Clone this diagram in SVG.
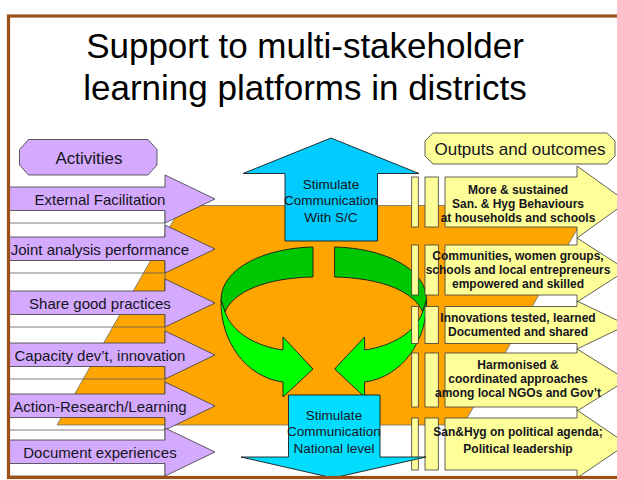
<svg xmlns="http://www.w3.org/2000/svg" width="617" height="480" viewBox="0 0 617 480">
<style>
text{font-family:"Liberation Sans",Arial,sans-serif;fill:#141420;text-anchor:middle}
.title{font-size:35px;fill:#000}
.act{font-size:15px}
.hdr{font-size:17px}
.cy{font-size:13.5px}
.out{font-size:12px;font-weight:bold}
.purp{fill:#D4AAFF;stroke:#3a3a3a;stroke-width:0.8}
.band{fill:none;stroke:#5a5a5a;stroke-width:0.8}
.yel{fill:#FFFF99;stroke:#3a3a3a;stroke-width:0.8}
.cyan{stroke:#1a1a1a;stroke-width:0.9}
.gdark{fill:#00C800;stroke:#1a1a1a;stroke-width:0.9}
.glight{fill:#00FF00;stroke:#1a1a1a;stroke-width:0.9}
</style>
<rect width="617" height="480" fill="#fff"/>
<g id="title">
<text class="title" x="305" y="58">Support to multi-stakeholder</text>
<text class="title" x="305" y="100">learning platforms in districts</text>
</g>
<polygon id="platform" points="182,205.5 591,205.5 463,425 57,425" fill="#FFA500" stroke="#6b6b6b" stroke-width="0.8"/>

<g id="activities-header">
<polygon class="purp" points="28.5,139.5 148,139.5 157,149.5 157,165 148,175 28.5,175 19.5,165 19.5,149.5"/>
<text class="hdr" x="89" y="164">Activities</text>
</g>

<g id="act1">
<path class="band" d="M165,210.5 V223 H9"/>
<polygon class="purp" points="9,187 165,187 165,175 215,199 165,223 165,210.5 9,210.5"/>
<text class="act" x="100" y="204.5">External Facilitation</text>
</g>
<g id="act2">
<path class="band" d="M165,260.5 V273 H9 M165,223 V237"/>
<polygon class="purp" points="9,237 165,237 165,225 215,249 165,273 165,260.5 9,260.5"/>
<text class="act" x="100" y="254.5">Joint analysis performance</text>
</g>
<g id="act3">
<path class="band" d="M165,314.5 V327 H9 M165,273 V291"/>
<polygon class="purp" points="9,291 165,291 165,279 215,303 165,327 165,314.5 9,314.5"/>
<text class="act" x="100" y="308.5">Share good practices</text>
</g>
<g id="act4">
<path class="band" d="M165,366.5 V379 H9 M165,327 V343"/>
<polygon class="purp" points="9,343 165,343 165,331 215,355 165,379 165,366.5 9,366.5"/>
<text class="act" x="100" y="360.5">Capacity dev’t, innovation</text>
</g>
<g id="act5">
<path class="band" d="M165,417.5 V430 H9 M165,379 V394"/>
<polygon class="purp" points="9,394 165,394 165,382 215,406 165,430 165,417.5 9,417.5"/>
<text class="act" x="100" y="411.5">Action-Research/Learning</text>
</g>
<g id="act6">
<path class="band" d="M165,463.5 V476 H9 M165,430 V440"/>
<polygon class="purp" points="9,440 165,440 165,428 215,452 165,476 165,463.5 9,463.5"/>
<text class="act" x="100" y="457.5">Document experiences</text>
</g>

<g id="connectors">
<g id="loop-left">
<path class="gdark" d="M313,247 C265,248 221,268 221,300 L225,312 C233,292 265,278 313,277 Z"/>
<path class="glight" d="M221,300 C220,340 245,377 283,382 L283,397 L313,369 L283,337 L283,350 C255,346 232,332 225,312 Z"/>
</g>
<g id="loop-right" transform="translate(647.6,0) scale(-1,1)">
<path class="gdark" d="M313,247 C265,248 221,268 221,300 L225,312 C233,292 265,278 313,277 Z"/>
<path class="glight" d="M221,300 C220,340 245,377 283,382 L283,397 L313,369 L283,337 L283,350 C255,346 232,332 225,312 Z"/>
</g>
</g>

<g id="outputs-header">
<polygon class="yel" points="433,133 607,133 615,141 615,156 607,164 433,164 425,156 425,141"/>
<text class="hdr" x="520" y="155">Outputs and outcomes</text>
</g>

<g id="out1">
<rect class="yel" x="411.7" y="177" width="6.6" height="50"/>
<rect class="yel" x="425" y="177" width="13.3" height="50"/>
<polygon class="yel" points="445,177 577,177 577,166 627,202 577,238 577,227 445,227"/>
<text class="out" x="518" y="193.5">More &amp; sustained</text>
<text class="out" x="518" y="207.5">San. &amp; Hyg Behaviours</text>
<text class="out" x="518" y="221.5">at households and schools</text>
</g>
<g id="out2">
<rect class="yel" x="411.7" y="245" width="6.6" height="50"/>
<rect class="yel" x="425" y="245" width="13.3" height="50"/>
<polygon class="yel" points="445,245 577,245 577,238 627,270 577,302 577,295 445,295"/>
<text class="out" x="518" y="260">Communities, women groups,</text>
<text class="out" x="518" y="274">schools and local entrepreneurs</text>
<text class="out" x="518" y="288">empowered and skilled</text>
</g>
<g id="out3">
<rect class="yel" x="411.7" y="306.5" width="6.6" height="37"/>
<rect class="yel" x="425" y="306.5" width="13.3" height="37"/>
<polygon class="yel" points="445,306.5 577,306.5 577,301 627,325 577,349 577,343.5 445,343.5"/>
<text class="out" x="518" y="321.5">Innovations tested, learned</text>
<text class="out" x="518" y="336">Documented and shared</text>
</g>
<g id="out4">
<rect class="yel" x="411.7" y="353" width="6.6" height="54"/>
<rect class="yel" x="425" y="353" width="13.3" height="54"/>
<polygon class="yel" points="445,353 577,353 577,349 627,380 577,411 577,407 445,407"/>
<text class="out" x="518" y="368.5">Harmonised &amp;</text>
<text class="out" x="518" y="382.5">coordinated approaches</text>
<text class="out" x="518" y="396.5">among local NGOs and Gov’t</text>
</g>
<g id="out5">
<rect class="yel" x="411.7" y="418" width="6.6" height="52"/>
<rect class="yel" x="425" y="418" width="13.3" height="52"/>
<polygon class="yel" points="445,418 577,418 577,410 627,444 577,478 577,470 445,470"/>
<text class="out" x="518" y="436">San&amp;Hyg on political agenda;</text>
<text class="out" x="518" y="453">Political leadership</text>
</g>

<g id="comm-sc">
<polygon class="cyan" fill="#00CCFF" points="331,138 419,173.5 377.5,173.5 377.5,241 285,241 285,173.5 243,173.5"/>
<text class="cy" x="331" y="189">Stimulate</text>
<text class="cy" x="331" y="205">Communication</text>
<text class="cy" x="331" y="221.5">With S/C</text>
</g>
<g id="comm-national">
<polygon class="cyan" fill="#00DDFF" points="288.5,395 380,395 380,457 426,457 333,478 241,457 288.5,457"/>
<text class="cy" x="334" y="420">Stimulate</text>
<text class="cy" x="334" y="436">Communication</text>
<text class="cy" x="334" y="452.5">National level</text>
</g>

<rect id="frame" x="8.5" y="16" width="620" height="461.5" fill="none" stroke="#9C4F17" stroke-width="3.2"/>
</svg>
